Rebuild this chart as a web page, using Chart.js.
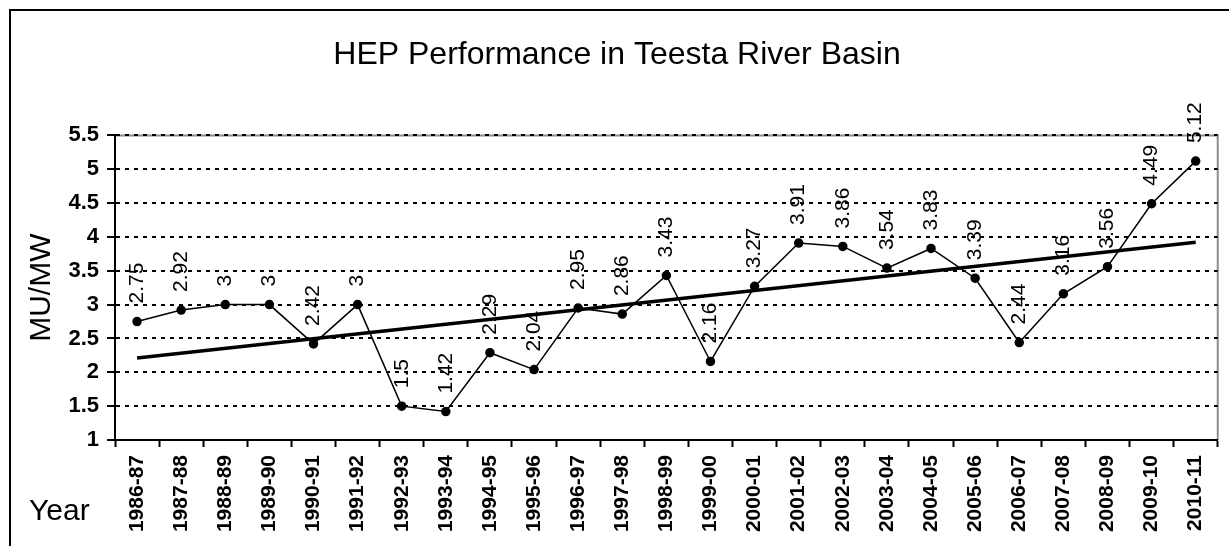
<!DOCTYPE html>
<html>
<head>
<meta charset="utf-8">
<script src="https://cdn.jsdelivr.net/npm/chart.js@4"></script>
<style>
  html, body { margin: 0; padding: 0; background: #fff; overflow: hidden; }
  #wrap { position: relative; width: 1229px; height: 546px; }
  #frame { position: absolute; left: 9px; top: 9px; width: 1300px; height: 600px; border: 2px solid #000; box-sizing: border-box; }
  canvas { position: absolute; left: 0; top: 0; }
</style>
</head>
<body>
<div id="wrap">
  <div id="frame"></div>
  <canvas id="hepChart" width="1229" height="546"></canvas>
</div>
<script>
const years = ['1986-87', '1987-88', '1988-89', '1989-90', '1990-91', '1991-92', '1992-93',
  '1993-94', '1994-95', '1995-96', '1996-97', '1997-98', '1998-99', '1999-00', '2000-01',
  '2001-02', '2002-03', '2003-04', '2004-05', '2005-06', '2006-07', '2007-08', '2008-09',
  '2009-10', '2010-11'];
const muPerMw = [2.75, 2.92, 3, 3, 2.42, 3, 1.5, 1.42, 2.29, 2.04, 2.95, 2.86, 3.43, 2.16,
  3.27, 3.91, 3.86, 3.54, 3.83, 3.39, 2.44, 3.16, 3.56, 4.49, 5.12];
// linear trend line, end values
const trendStart = 2.21;
const trendEnd = 3.92;
const trend = years.map((y, i) => i === 0 ? trendStart : (i === years.length - 1 ? trendEnd : null));

const FONT = '"Liberation Sans", Arial, sans-serif';

// grey plot border (top + right), drawn under the grid
const plotBorder = {
  id: 'plotBorder',
  beforeDraw(chart) {
    const { ctx, chartArea: a } = chart;
    ctx.save();
    ctx.strokeStyle = '#8c8c8c';
    ctx.lineWidth = 2;
    ctx.beginPath();
    ctx.moveTo(a.left, a.top);
    ctx.lineTo(a.right, a.top);
    ctx.lineTo(a.right, a.bottom);
    ctx.stroke();
    ctx.restore();
  }
};

// vertical value labels above points + the "Year" caption
const valueLabels = {
  id: 'valueLabels',
  afterDatasetsDraw(chart) {
    const ctx = chart.ctx;
    const meta = chart.getDatasetMeta(0);
    ctx.save();
    ctx.fillStyle = '#000';
    ctx.font = '21px ' + FONT;
    ctx.textAlign = 'left';
    ctx.textBaseline = 'middle';
    meta.data.forEach((pt, i) => {
      ctx.save();
      ctx.translate(pt.x, pt.y - 18);
      ctx.rotate(-Math.PI / 2);
      ctx.fillText(String(muPerMw[i]), 0, 0);
      ctx.restore();
    });
    ctx.font = '30px ' + FONT;
    ctx.textBaseline = 'alphabetic';
    ctx.fillText('Year', 29, 520);
    ctx.restore();
  }
};

new Chart(document.getElementById('hepChart'), {
  type: 'line',
  data: {
    labels: years,
    datasets: [
      {
        data: muPerMw,
        borderColor: '#000',
        borderWidth: 1.5,
        pointBackgroundColor: '#000',
        pointBorderColor: '#000',
        pointRadius: 4,
        tension: 0
      },
      {
        data: trend,
        borderColor: '#000',
        borderWidth: 3.5,
        pointRadius: 0,
        spanGaps: true
      }
    ]
  },
  options: {
    responsive: false,
    animation: false,
    layout: { padding: { left: 10, top: 0, right: 5, bottom: 0 } },
    plugins: {
      legend: { display: false },
      tooltip: { enabled: false },
      title: {
        display: true,
        text: 'HEP Performance in Teesta River Basin',
        color: '#000',
        font: { family: FONT, size: 32, weight: 'normal' },
        padding: { top: 36, bottom: 61 }
      }
    },
    scales: {
      x: {
        offset: true,
        grid: { offset: true, drawOnChartArea: false, tickLength: 7, tickColor: '#000', tickWidth: 2 },
        border: { color: '#000', width: 2 },
        ticks: {
          autoSkip: false, minRotation: 90, maxRotation: 90, padding: 8,
          color: '#000', font: { family: FONT, size: 21, weight: 'bold' }
        },
        afterFit(scale) { scale.height = 106; }
      },
      y: {
        min: 1,
        max: 5.5,
        grid: { color: '#000', lineWidth: 2, tickLength: 8, tickColor: '#000', tickWidth: 2, tickBorderDash: [] },
        border: { color: '#000', width: 2, dash: [4, 5] },
        ticks: {
          stepSize: 0.5, padding: 8, color: '#000',
          font: { family: FONT, size: 22, weight: 'bold' },
          callback: (v) => String(v)
        },
        title: {
          display: true, text: 'MU/MW', color: '#000',
          font: { family: FONT, size: 30 },
          padding: { top: 14, bottom: 0 }
        },
        afterFit(scale) { scale.width = 105; }
      }
    }
  },
  plugins: [plotBorder, valueLabels]
});
</script>
</body>
</html>
